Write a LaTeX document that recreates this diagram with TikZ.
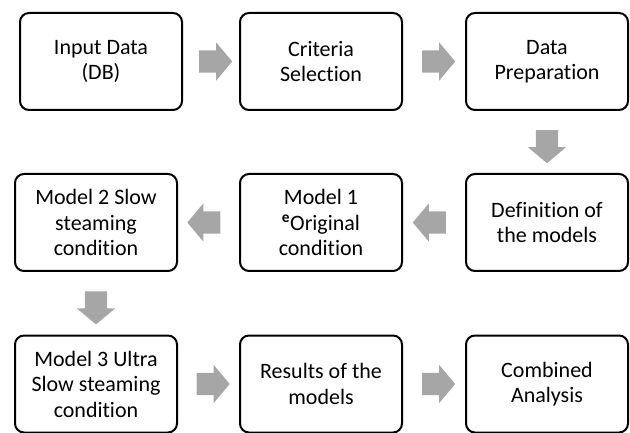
\documentclass[tikz,border=0pt]{standalone}
\usepackage{fontspec}
\setmainfont{Carlito}[Ligatures=NoCommon]
\usetikzlibrary{shapes.arrows,calc}
\definecolor{arrowgray}{HTML}{A6A6A6}
\tikzset{
  stepbox/.style={draw=black, line width=2pt, rounded corners=9pt, fill=white,
    minimum width=162pt, minimum height=97pt, inner sep=0pt, align=center,
    font=\fontsize{22}{25.5}\selectfont},
  blockarrow/.style={single arrow, draw=none, fill=arrowgray, inner xsep=0pt,
    inner ysep=11pt, minimum height=33pt, single arrow head extend=8pt,
    single arrow tip angle=100}
}
\begin{document}
\begin{tikzpicture}[x=1pt,y=-1pt]
\useasboundingbox (0,0) rectangle (630,433);
\node[stepbox] (input) at (101,61.5) {Input Data\\(DB)};
\node[stepbox] (crit) at (321,61.5) {Criteria\\Selection};
\node[stepbox] (prep) at (547,61.5) {Data\\Preparation};
\node[stepbox] (m2) at (96,222.5) {Model 2 Slow\\steaming\\condition};
\node[stepbox] (m1) at (321,222.5) {Model 1\\\textsuperscript{\bfseries e}Original\\condition};
\node[stepbox] (def) at (547,222.5) {Definition of\\the models};
\node[stepbox] (m3) at (96,384) {Model 3 Ultra\\Slow steaming\\condition};
\node[stepbox] (res) at (321,384) {Results of the\\models};
\node[stepbox] (comb) at (547,384) {Combined\\Analysis};
\node[blockarrow] (a1) at ($(input.east)!0.5!(crit.west)$) {};
\node[blockarrow] (a2) at ($(crit.east)!0.5!(prep.west)$) {};
\node[blockarrow, rotate=-90] (a3) at ($(prep.south)!0.5!(def.north)$) {};
\node[blockarrow, rotate=180] (a4) at ($(def.west)!0.5!(m1.east)$) {};
\node[blockarrow, rotate=180] (a5) at ($(m1.west)!0.5!(m2.east)$) {};
\node[blockarrow, rotate=-90] (a6) at ($(m2.south)!0.5!(m3.north)$) {};
\node[blockarrow] (a7) at ($(m3.east)!0.5!(res.west)$) {};
\node[blockarrow] (a8) at ($(res.east)!0.5!(comb.west)$) {};
\end{tikzpicture}
\end{document}
